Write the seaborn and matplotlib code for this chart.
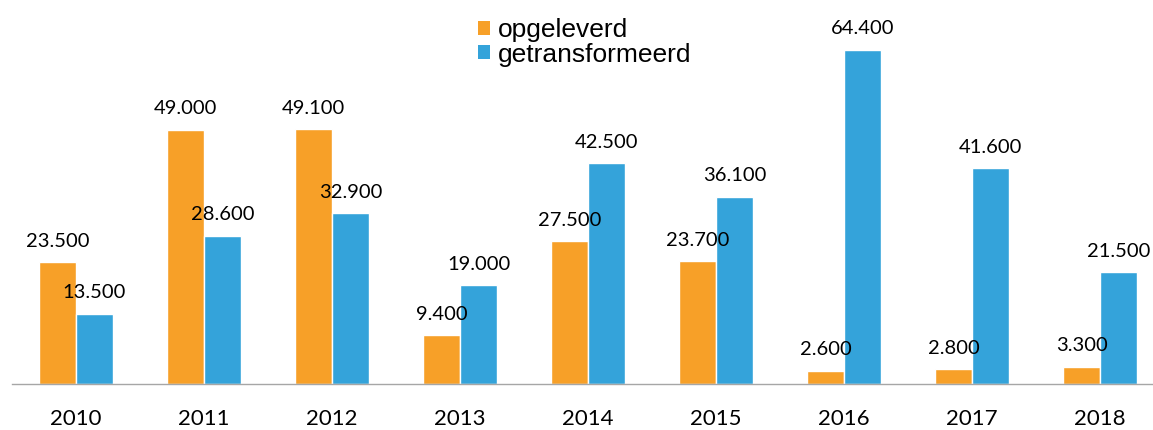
import matplotlib.pyplot as plt
import pandas as pd
import seaborn as sns
from matplotlib.patches import Patch
from matplotlib.ticker import FixedLocator

# Data
jaren = ["2010", "2011", "2012", "2013", "2014", "2015", "2016", "2017", "2018"]
opgeleverd = [23500, 49000, 49100, 9400, 27500, 23700, 2600, 2800, 3300]
getransformeerd = [13500, 28600, 32900, 19000, 42500, 36100, 64400, 41600, 21500]
series = ["opgeleverd", "getransformeerd"]
colors = ["#F7A028", "#34A3DA"]

df = pd.DataFrame(
    {
        "jaar": jaren * 2,
        "aantal": opgeleverd + getransformeerd,
        "type": [series[0]] * len(jaren) + [series[1]] * len(jaren),
    }
)

sns.set_style("white")
plt.rcParams["font.family"] = ["Lato", "DejaVu Sans"]

W, H = 1153, 430
fig = plt.figure(figsize=(W / 100, H / 100), dpi=100)
# axis runs a bit past the right edge of the picture, as in the original
ax = fig.add_axes([12 / W, 46 / H, 1152 / W, 384 / H])

sns.barplot(
    data=df,
    x="jaar",
    y="aantal",
    hue="type",
    hue_order=series,
    palette=colors,
    saturation=1,
    width=0.578,
    edgecolor="white",
    linewidth=1,
    legend=False,
    ax=ax,
)

# value labels with a dot as thousands separator
for cont in ax.containers:
    labels = [f"{int(b.get_height()):,}".replace(",", ".") for b in cont]
    ax.bar_label(cont, labels=labels, padding=9, fontsize=14.5, color="black")

ax.set_xlim(-0.5, len(jaren) - 0.5)
ax.set_ylim(0, 74000)
ax.set_xlabel("")
ax.set_ylabel("")
ax.set_yticks([])
for side in ["left", "right", "top"]:
    ax.spines[side].set_visible(False)
ax.spines["bottom"].set_color("#A6A6A6")
ax.spines["bottom"].set_linewidth(1.0)

ax.tick_params(axis="x", which="major", length=0, pad=18, labelsize=16, labelcolor="black")
ax.xaxis.set_minor_locator(FixedLocator([i - 0.5 for i in range(len(jaren) + 1)]))
ax.tick_params(axis="x", which="minor", length=6, width=1, color="#A6A6A6", direction="out")

handles = [Patch(facecolor=c, edgecolor="none") for c in colors]
fig.legend(
    handles,
    series,
    loc="upper left",
    bbox_to_anchor=(478 / W, 1 - 18 / H),
    frameon=False,
    borderpad=0,
    borderaxespad=0,
    handlelength=0.45,
    handleheight=0.45,
    handletextpad=0.3,
    labelspacing=0.02,
    labelcolor="black",
    prop={"family": ["Liberation Sans", "DejaVu Sans"], "size": 19},
)

fig.savefig("out.png", dpi=100)
